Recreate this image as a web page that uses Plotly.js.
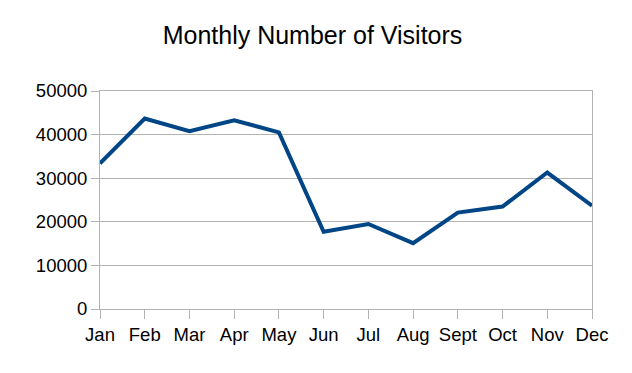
<!DOCTYPE html>
<html>
<head>
<meta charset="utf-8">
<script src="https://cdn.plot.ly/plotly-3.0.1.min.js"></script>
<style>html,body{margin:0;padding:0;background:#fff;}#chart{width:632px;height:373px;}</style>
</head>
<body>
<div id="chart"></div>
<script>
const months = ["Jan","Feb","Mar","Apr","May","Jun","Jul","Aug","Sept","Oct","Nov","Dec"];
const visitors = [33400, 43700, 40800, 43300, 40500, 17700, 19500, 15100, 22100, 23500, 31300, 23700];
const yTicks = [0, 10000, 20000, 30000, 40000, 50000];

const trace = {
  x: months,
  y: visitors,
  type: "scatter",
  mode: "lines",
  line: {color: "#004586", width: 4},
  hoverinfo: "skip"
};

const layout = {
  width: 632,
  height: 373,
  margin: {l: 100, r: 40, t: 91, b: 64},
  paper_bgcolor: "#ffffff",
  plot_bgcolor: "#ffffff",
  showlegend: false,
  font: {family: "Liberation Sans, Arial, sans-serif", color: "#000000", size: 18.5},
  title: {
    text: "Monthly Number of Visitors",
    font: {family: "Liberation Sans, Arial, sans-serif", size: 25, color: "#000000"},
    x: 312.5/632, xanchor: "center",
    y: 1 - 35/373, yanchor: "middle",
    xref: "container", yref: "container"
  },
  xaxis: {
    type: "category",
    range: [0, 11],
    showgrid: false,
    zeroline: false,
    showline: true,
    linecolor: "#b3b3b3",
    linewidth: 1,
    mirror: true,
    ticks: "outside",
    ticklen: 9,
    tickcolor: "#b3b3b3",
    tickfont: {size: 18.5},
    fixedrange: true
  },
  yaxis: {
    range: [0, 50000],
    tickvals: yTicks,
    ticktext: yTicks.map(String),
    showgrid: true,
    gridcolor: "#b3b3b3",
    gridwidth: 1,
    zeroline: false,
    showline: true,
    linecolor: "#b3b3b3",
    linewidth: 1,
    mirror: true,
    ticks: "outside",
    ticklen: 8,
    tickcolor: "#b3b3b3",
    tickfont: {size: 18.5},
    fixedrange: true
  }
};

Plotly.newPlot("chart", [trace], layout, {displayModeBar: false, staticPlot: true});
</script>
</body>
</html>
